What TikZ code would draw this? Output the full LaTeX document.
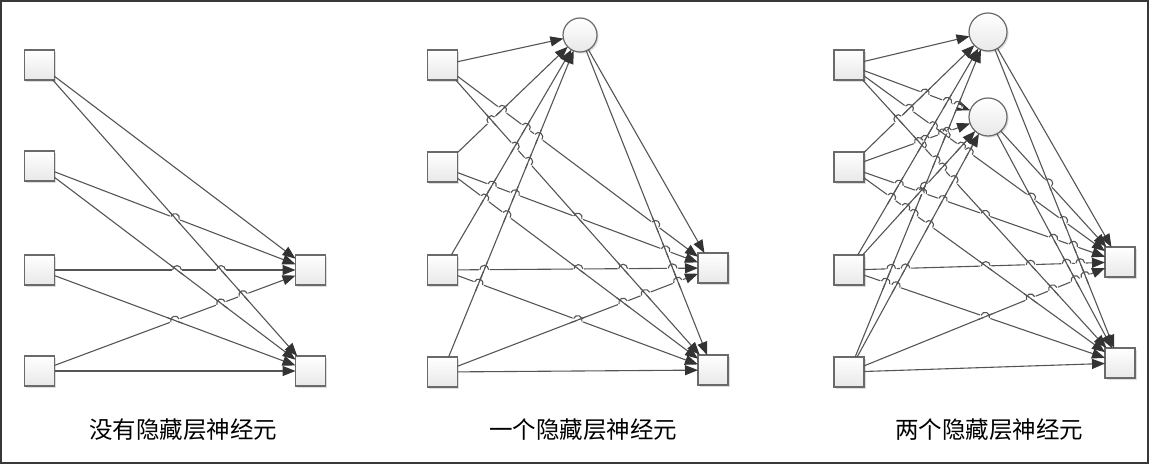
\documentclass[tikz,border=0pt]{standalone}
\usepackage{fontspec}
\newfontfamily\cjk{Noto Sans CJK SC}
\usetikzlibrary{arrows.meta,shadows}
\definecolor{edgec}{HTML}{555555}
\definecolor{tipc}{HTML}{333333}
\definecolor{boxc}{HTML}{6A6A6A}
\tikzset{
  unitbox/.style={draw=boxc, line width=1.3pt, minimum size=30pt, inner sep=0pt, outer sep=0pt,
    top color=white, bottom color=black!9,
    drop shadow={shadow xshift=1.6pt, shadow yshift=-1.6pt, opacity=0.22, fill=black!60}},
  hidnode/.style={circle, draw=boxc, line width=1.2pt, inner sep=0pt, outer sep=0pt, minimum size=34pt,
    top color=white, bottom color=black!9,
    drop shadow={shadow xshift=1.6pt, shadow yshift=-1.6pt, opacity=0.22, fill=black!60}},
  conn/.style={draw=edgec, line width=1.1pt, -{Triangle[length=13pt,width=10pt,color=tipc]}},
  hopline/.style={draw=edgec, line width=1.1pt},
  lbl/.style={font=\cjk\fontsize{23.5}{24}\selectfont, inner sep=0pt}
}
\newcommand\hopcheck[4]{%
  \pgfpointanchor{#1}{center}\pgfgetlastxy{\hAx}{\hAy}%
  \pgfpointanchor{#2}{center}\pgfgetlastxy{\hBx}{\hBy}%
  \pgfpointanchor{#3}{center}\pgfgetlastxy{\hCx}{\hCy}%
  \pgfpointanchor{#4}{center}\pgfgetlastxy{\hDx}{\hDy}%
  \pgfmathsetmacro\hrx{(\hBx-\hAx)/100}%
  \pgfmathsetmacro\hry{(\hBy-\hAy)/100}%
  \pgfmathsetmacro\hsx{(\hDx-\hCx)/100}%
  \pgfmathsetmacro\hsy{(\hDy-\hCy)/100}%
  \pgfmathsetmacro\hqx{(\hCx-\hAx)/100}%
  \pgfmathsetmacro\hqy{(\hCy-\hAy)/100}%
  \pgfmathsetmacro\hden{(\hrx)*(\hsy)-(\hry)*(\hsx)}%
  \pgfmathtruncatemacro\hpar{abs(\hden)<0.001}%
  \ifnum\hpar=0
    \pgfmathsetmacro\ht{((\hqx)*(\hsy)-(\hqy)*(\hsx))/(\hden)}%
    \pgfmathsetmacro\hu{((\hqx)*(\hry)-(\hqy)*(\hrx))/(\hden)}%
    \pgfmathsetmacro\hlr{veclen(\hrx,\hry)}%
    \pgfmathsetmacro\hls{veclen(\hsx,\hsy)}%
    \pgfmathtruncatemacro\hok{and(and((\ht)*(\hlr)>0.3,(1-(\ht))*(\hlr)>0.3),and((\hu)*(\hls)>0.3,(1-(\hu))*(\hls)>0.3))}%
    \ifnum\hok=1
      \pgfmathsetmacro\hix{\hAx+(\ht)*(\hBx-\hAx)}%
      \pgfmathsetmacro\hiy{\hAy+(\ht)*(\hBy-\hAy)}%
      \pgfmathtruncatemacro\hfirst{abs((\hry)*(\hsx))<abs((\hsy)*(\hrx))-0.002}%
      \ifnum\hfirst=1
        \pgfmathsetmacro\hth{atan((\hry)/(\hrx))}%
        \pgfmathsetmacro\hph{atan((\hsy)/(\hsx))}%
      \else
        \pgfmathsetmacro\hth{atan((\hsy)/(\hsx))}%
        \pgfmathsetmacro\hph{atan((\hry)/(\hrx))}%
      \fi
      \begin{scope}[shift={(\hix,\hiy)}]
        \fill[white, rotate=\hth] (-5.4,-1.4) rectangle (5.4,1.4);
        \draw[hopline, rotate=\hph] (-8,0) -- (8,0);
        \draw[hopline, rotate=\hth] (-4.4,0) arc[start angle=180, end angle=0, radius=4.4];
      \end{scope}
    \fi
  \fi
}
\newcommand\netedges[1]{%
  \foreach \a/\b in {#1} { \draw[conn] (\a) -- (\b); }
  \foreach \a/\b [count=\i] in {#1} {
    \foreach \c/\d [count=\j] in {#1} {
      \ifnum\j>\i \hopcheck{\a}{\b}{\c}{\d}\fi
    }
  }
}
\begin{document}
\begin{tikzpicture}[x=1pt, y=1pt]
\useasboundingbox (0,0) rectangle (1150,-465);
\draw[line width=1.6pt, draw=black!78] (1,-1) rectangle (1148,-463);

% ---------- panel 1 ----------
\node[unitbox] (a1) at (39.5,-65) {};
\node[unitbox] (a2) at (39.5,-166) {};
\node[unitbox] (a3) at (39.5,-270) {};
\node[unitbox] (a4) at (39.5,-371) {};
\node[unitbox] (ao1) at (310.5,-270) {};
\node[unitbox] (ao2) at (310.5,-371) {};
\netedges{a1/ao1,a1/ao2,a2/ao1,a2/ao2,a3/ao1,a3/ao2,a4/ao1,a4/ao2}
\node[lbl] (l1) at (183,-430) {没有隐藏层神经元};

% ---------- panel 2 ----------
\node[unitbox] (b1) at (442.5,-65) {};
\node[unitbox] (b2) at (442.5,-167) {};
\node[unitbox] (b3) at (442.5,-270) {};
\node[unitbox] (b4) at (442.5,-372) {};
\node[hidnode] (bh) at (580,-35) {};
\node[unitbox] (bo1) at (713,-268) {};
\node[unitbox] (bo2) at (713,-370) {};
\netedges{b1/bh,b2/bh,b3/bh,b4/bh,b1/bo1,b1/bo2,b2/bo1,b2/bo2,b3/bo1,b3/bo2,b4/bo1,b4/bo2,bh/bo1,bh/bo2}
\node[lbl] (l2) at (583,-430) {一个隐藏层神经元};

% ---------- panel 3 ----------
\node[unitbox] (c1) at (849,-65) {};
\node[unitbox] (c2) at (849,-167) {};
\node[unitbox] (c3) at (849,-270) {};
\node[unitbox] (c4) at (849,-372) {};
\node[hidnode, minimum size=38pt] (ch1) at (988,-32) {};
\node[hidnode, minimum size=38pt] (ch2) at (988,-117) {};
\node[unitbox] (co1) at (1120,-262) {};
\node[unitbox] (co2) at (1120,-363) {};
\netedges{c1/ch1,c2/ch1,c3/ch1,c4/ch1,c1/ch2,c2/ch2,c3/ch2,c4/ch2,c1/co1,c1/co2,c2/co1,c2/co2,c3/co1,c3/co2,c4/co1,c4/co2,ch1/co1,ch1/co2,ch2/co1,ch2/co2}
\node[lbl] (l3) at (989,-430) {两个隐藏层神经元};
\end{tikzpicture}
\end{document}
